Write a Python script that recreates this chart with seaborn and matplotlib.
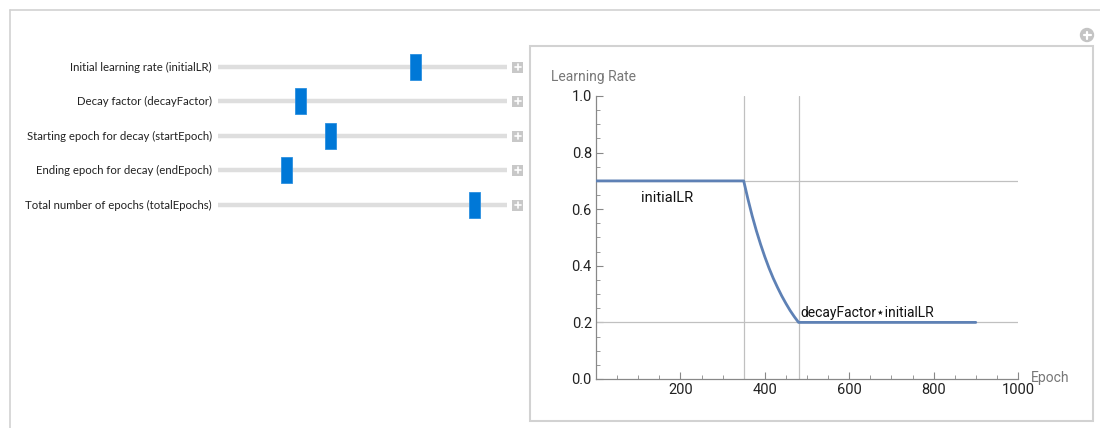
import numpy as np
import pandas as pd
import matplotlib
matplotlib.use("Agg")
import matplotlib.pyplot as plt
import seaborn as sns
from matplotlib.patches import Rectangle, Circle
from matplotlib.ticker import MultipleLocator

# --- data ---
slider_labels = [
    "Initial learning rate (initialLR)",
    "Decay factor (decayFactor)",
    "Starting epoch for decay (startEpoch)",
    "Ending epoch for decay (endEpoch)",
    "Total number of epochs (totalEpochs)",
]
slider_values = [0.7, 0.2857, 350, 480, 900]
slider_min = [0.05, 0.0, 0, 350, 100]
slider_max = [1.0, 1.0, 900, 900, 1000]

epochs = [0, 350, 360, 370, 380, 390, 400, 410, 420, 430, 440, 450, 460, 470, 480, 900]
learning_rate = [0.7, 0.7, 0.636, 0.577, 0.524, 0.476, 0.432, 0.392, 0.356,
                 0.324, 0.294, 0.267, 0.242, 0.220, 0.2, 0.2]

initial_lr = 0.7
final_lr = 0.2
start_epoch = 350
end_epoch = 480

sns.set_theme(style="white")
plt.rcParams['font.family'] = ['Roboto', 'DejaVu Sans']

W, H = 1100, 428
fig = plt.figure(figsize=(W / 100, H / 100), dpi=100)

# overlay in pixel units for the control panel
ui = fig.add_axes([0, 0, 1, 1])
ui.set_xlim(0, W)
ui.set_ylim(H, 0)
ui.axis("off")

frame_col = "#d2d2d2"
ui.plot([10, W], [10, 10], color=frame_col, lw=1.2)
ui.plot([10, 10], [10, H], color=frame_col, lw=1.2)
ui.add_patch(Rectangle((530, 46), 563, 375, facecolor="white", edgecolor=frame_col, lw=1.5))

# the small "+" icon in the corner
ui.add_patch(Circle((1087, 35), 6.5, color="#c4c4c4"))
ui.plot([1083.5, 1090.5], [35, 35], color="white", lw=1.6)
ui.plot([1087, 1087], [31.5, 38.5], color="white", lw=1.6)

track_x0, track_x1 = 218, 507
row_y = [67, 101, 136, 170, 205]
for lab, v, lo, hi, y in zip(slider_labels, slider_values, slider_min, slider_max, row_y):
    ui.text(212, y, lab, ha="right", va="center", fontsize=8.2,
            family=["Lato", "DejaVu Sans"], color="#222222")
    ui.plot([track_x0, track_x1], [y, y], color="#dedede", lw=3.2,
            solid_capstyle="butt", zorder=1)
    tx = track_x0 + (v - lo) / (hi - lo) * (track_x1 - track_x0)
    ui.add_patch(Rectangle((tx - 5.5, y - 13), 11, 26, facecolor="#0078d7",
                           edgecolor="#2b8fe0", lw=0.6, zorder=3))
    ui.add_patch(Rectangle((512, y - 5.5), 11, 11, facecolor="#c8c8c8",
                           edgecolor="none", zorder=2))
    ui.plot([514.5, 520.5], [y, y], color="white", lw=1.2, zorder=3)
    ui.plot([517.5, 517.5], [y - 3, y + 3], color="white", lw=1.2, zorder=3)

# --- the learning-rate plot ---
ax = fig.add_axes([596 / W, 1 - 379 / H, 422 / W, 283 / H])
ax.patch.set_alpha(0)

df = pd.DataFrame({"Epoch": epochs, "LR": learning_rate})
grid_col = "#c0c0c0"
ax.axhline(initial_lr, color=grid_col, lw=0.9, zorder=1)
ax.axhline(final_lr, color=grid_col, lw=0.9, zorder=1)
ax.axvline(start_epoch, color=grid_col, lw=0.9, zorder=1)
ax.axvline(end_epoch, color=grid_col, lw=0.9, zorder=1)

sns.lineplot(data=df, x="Epoch", y="LR", ax=ax, color="#5e81b5", lw=2.0, zorder=3)

ax.set_xlim(0, 1000)
ax.set_ylim(0, 1.0)
ax.xaxis.set_major_locator(MultipleLocator(200))
ax.xaxis.set_minor_locator(MultipleLocator(50))
ax.yaxis.set_major_locator(MultipleLocator(0.2))
ax.yaxis.set_minor_locator(MultipleLocator(0.05))
ax.set_xticks([200, 400, 600, 800, 1000])
ax.set_yticklabels([f"{t:.1f}" for t in ax.get_yticks()])
ax.tick_params(axis="both", which="major", direction="in", length=5, width=0.8,
               color="#888888", labelsize=10.5, labelcolor="#222222", pad=3)
ax.tick_params(axis="both", which="minor", direction="in", length=3, width=0.6,
               color="#888888")
ax.tick_params(axis="x", bottom=True, which="both")
ax.tick_params(axis="y", left=True, which="both")
for s in ["top", "right"]:
    ax.spines[s].set_visible(False)
for s in ["left", "bottom"]:
    ax.spines[s].set_color("#888888")
    ax.spines[s].set_linewidth(0.9)
ax.set_xlabel("")
ax.set_ylabel("")

ax.text(107, 0.64, "initialLR", ha="left", va="center", fontsize=10.5, color="#111111")
ax.text(484, 0.207, "decayFactor\u22c6initialLR", ha="left", va="bottom", fontsize=10,
        color="#111111", family=["Roboto", "DejaVu Sans"])

ui.text(551, 77, "Learning Rate", ha="left", va="center", fontsize=10, color="#777777")
ui.text(1031, 378, "Epoch", ha="left", va="center", fontsize=10, color="#777777")

fig.savefig("out.png", dpi=100)
